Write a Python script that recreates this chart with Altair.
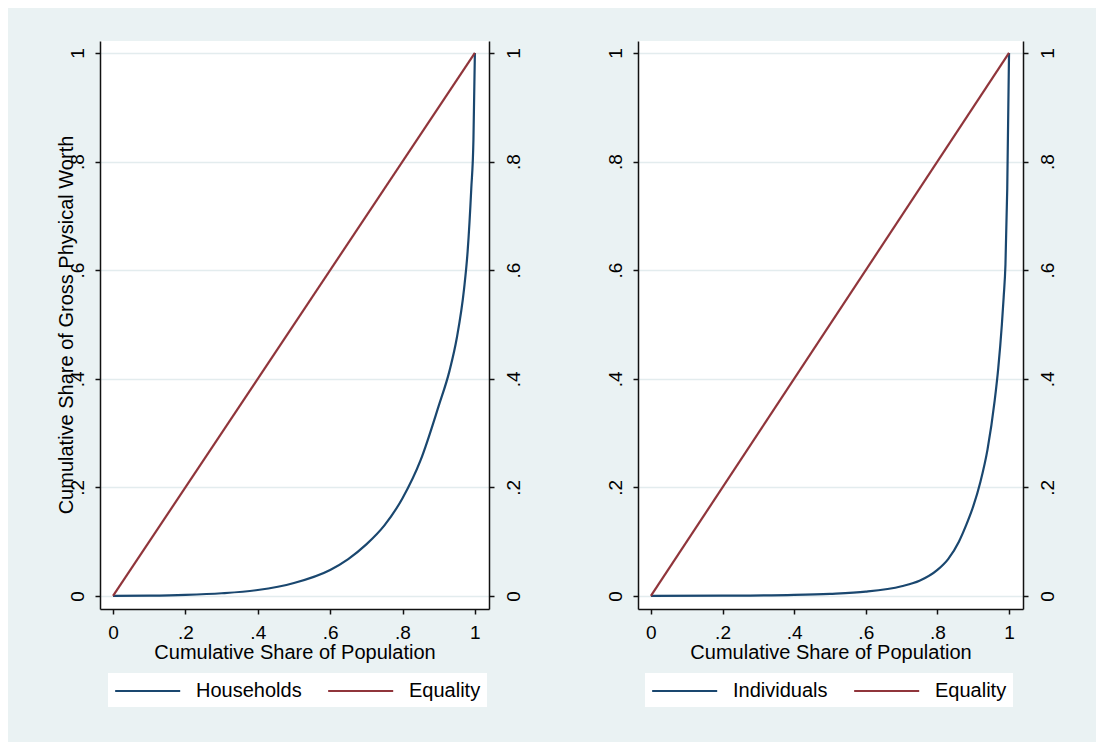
import altair as alt
import pandas as pd

# ---- data ----
hh_pop = [0, 0.1, 0.2, 0.3, 0.4, 0.5, 0.6, 0.65, 0.7, 0.75, 0.8, 0.85, 0.9, 0.93, 0.95, 0.97, 0.98, 0.99, 0.996, 1.0]
hh_share = [0, 0.0005, 0.002, 0.005, 0.011, 0.024, 0.048, 0.068, 0.095, 0.13, 0.18, 0.25, 0.35, 0.415, 0.475, 0.565, 0.635, 0.75, 0.84, 1.0]

ind_pop = [0, 0.2, 0.4, 0.5, 0.6, 0.7, 0.75, 0.8, 0.83, 0.86, 0.88, 0.9, 0.92, 0.94, 0.96, 0.97, 0.98, 0.985, 0.99, 0.995, 1.0]
ind_share = [0, 0.0005, 0.002, 0.004, 0.008, 0.018, 0.028, 0.048, 0.068, 0.10, 0.13, 0.165, 0.21, 0.27, 0.36, 0.42, 0.50, 0.55, 0.61, 0.75, 1.0]

eq_pop = [0, 1]
eq_share = [0, 1]

tick_values = [0, 0.2, 0.4, 0.6, 0.8, 1]
x_title = "Cumulative Share of Population"
y_title = "Cumulative Share of Gross Physical Worth"

NAVY = "#1A476F"
MAROON = "#90353B"
BG = "#EAF2F3"
GRID = "#E3ECEE"
FONT = "Liberation Sans"
FS = 20
TFS = 19
LABEL_EXPR = "replace(format(datum.value, '.1~f'), '0.', '.')"


def panel(pop, share, name, width, legend_x, with_title):
    df = pd.DataFrame({
        "x": pop + eq_pop,
        "y": share + eq_share,
        "series": [name] * len(pop) + ["Equality"] * len(eq_pop),
    })
    xs = alt.Scale(domain=[-0.036, 1.039], nice=False, zero=False)
    ys = alt.Scale(domain=[-0.024, 1.022], nice=False, zero=False)

    common = dict(values=tick_values, labelExpr=LABEL_EXPR, tickSize=5,
                  domainColor="#111", tickColor="#111", domainWidth=1.5, tickWidth=1.5,
                  labelFontSize=TFS, labelFont=FONT, labelColor="#000",
                  labelFlush=False, labelOverlap=False)
    xaxis = alt.Axis(title=x_title, grid=False, labelPadding=9, titlePadding=0,
                     titleFontSize=FS, titleFont=FONT, titleFontWeight="normal",
                     titleColor="#000", **common)
    yaxis_l = alt.Axis(orient="left", title=None, grid=True, gridColor=GRID, gridWidth=1.5,
                       labelAngle=270, labelAlign="center", labelBaseline="alphabetic",
                       labelPadding=12, **common)
    yaxis_r = alt.Axis(orient="right", title=None, grid=False,
                       labelAngle=270, labelAlign="center", labelBaseline="top",
                       labelPadding=10, **common)

    legend = alt.Legend(title=None, orient="none", legendX=legend_x, legendY=632,
                        direction="horizontal", symbolType="M-1,0H5", symbolSize=470,
                        symbolStrokeWidth=2, labelFontSize=FS, labelFont=FONT,
                        labelColor="#000", fillColor="white", padding=6,
                        labelOffset=58, columnPadding=22, labelLimit=0)

    lines = alt.Chart(df).mark_line(strokeWidth=2.2, interpolate="monotone").encode(
        x=alt.X("x:Q", scale=xs, axis=xaxis),
        y=alt.Y("y:Q", scale=ys, axis=yaxis_l),
        color=alt.Color("series:N",
                        scale=alt.Scale(domain=[name, "Equality"], range=[NAVY, MAROON]),
                        legend=legend),
    )
    right = alt.Chart(df).mark_point(opacity=0).encode(
        x=alt.X("x:Q", scale=xs, axis=xaxis),
        y=alt.Y("y:Q", scale=ys, axis=yaxis_r),
    )
    layers = [lines, right]
    if with_title:
        ttl = alt.Chart(pd.DataFrame({"t": [y_title]})).mark_text(
            angle=270, fontSize=FS, font=FONT, color="#000", baseline="middle", align="center"
        ).encode(x=alt.value(-33), y=alt.value(284), text="t:N")
        layers.append(ttl)
    return alt.layer(*layers).resolve_scale(y="independent").properties(width=width, height=568)


left = panel(hh_pop, hh_share, "Households", 389, 8, True)
right = panel(ind_pop, ind_share, "Individuals", 385, 7, False)

chart = alt.hconcat(left, right, spacing=149, bounds="flush").resolve_scale(
    color="independent").resolve_legend(color="independent").configure(
    background=BG, padding={"left": 48, "top": 33, "right": 39, "bottom": 35}
).configure_view(fill="white", stroke=None)

chart.save("out.html", embed_options={"renderer": "svg", "actions": False})
